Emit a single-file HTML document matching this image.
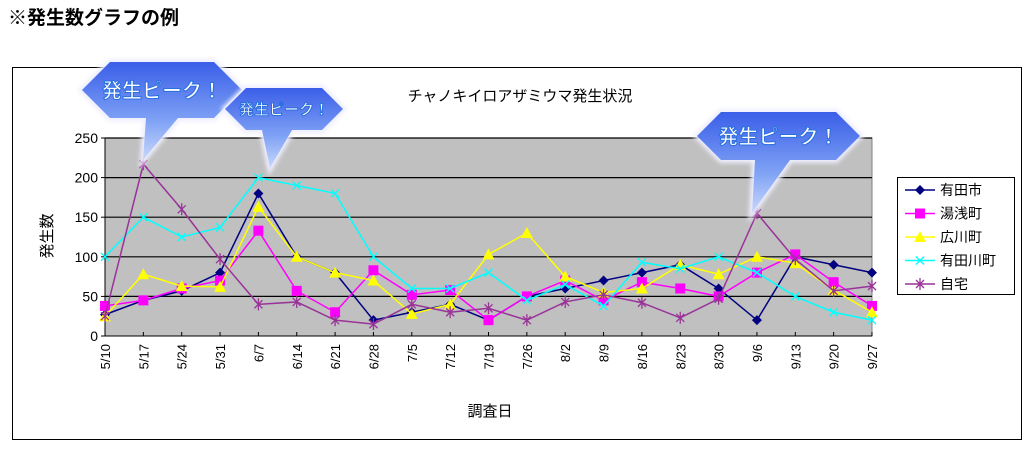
<!DOCTYPE html>
<html><head><meta charset="utf-8"><style>
body{margin:0;background:#fff;width:1032px;height:447px;overflow:hidden}
text{font-family:"Liberation Sans","Noto Sans CJK JP",sans-serif}
</style></head><body>
<svg id="s" width="1032" height="447" xmlns="http://www.w3.org/2000/svg">
<defs>
<linearGradient id="bg" x1="0" y1="0" x2="0" y2="1"><stop offset="0" stop-color="#3a5ee8"/><stop offset="0.6" stop-color="#7fa2f5"/><stop offset="1" stop-color="#c9d8fb"/></linearGradient>
<filter id="gl"><feGaussianBlur stdDeviation="2"/></filter>
</defs>
<text x="8" y="24" font-size="19" font-weight="bold" fill="#000">※発生数グラフの例</text>
<rect x="12.5" y="67.5" width="1009" height="372" fill="none" stroke="#000" stroke-width="1"/>
<text x="520" y="101" font-size="15" text-anchor="middle" fill="#000">チャノキイロアザミウマ発生状況</text>
<rect x="105" y="138" width="767" height="198" fill="#c0c0c0" stroke="#808080"/>
<g id="grid"></g>
<text transform="translate(52,236) rotate(-90)" font-size="15" text-anchor="middle">発生数</text>
<text x="490" y="416" font-size="15" text-anchor="middle">調査日</text>
<rect x="897.5" y="177.5" width="117" height="117" fill="#fff" stroke="#000"/>
<g id="series"></g>
<g id="leg"></g>
<g id="bub"></g>
</svg>
<script>
const NS="http://www.w3.org/2000/svg";
function el(p,t,a,txt){const e=document.createElementNS(NS,t);for(const k in a)e.setAttribute(k,a[k]);if(txt!=null)e.textContent=txt;p.appendChild(e);return e;}
const g=document.getElementById('grid'),S=document.getElementById('series'),L=document.getElementById('leg'),B=document.getElementById('bub');
const x0=105,x1=872,yb=336,yt=138;
const X=i=>x0+i*(x1-x0)/20, Y=v=>yb-v*(yb-yt)/250;
for(let v=0;v<=250;v+=50){const y=Y(v);if(v>0)el(g,'line',{x1:x0,x2:x1,y1:y,y2:y,stroke:'#000','stroke-width':1.2});
el(g,'text',{x:98,y:y+5,'font-size':14,'text-anchor':'end'},v);el(g,'line',{x1:x0-4,x2:x0,y1:y,y2:y,stroke:'#000'});}
el(g,'line',{x1:x0,x2:x0,y1:yt,y2:yb,stroke:'#000'});el(g,'line',{x1:x0,x2:x1,y1:yb,y2:yb,stroke:'#000'});
const dates=['5/10','5/17','5/24','5/31','6/7','6/14','6/21','6/28','7/5','7/12','7/19','7/26','8/2','8/9','8/16','8/23','8/30','9/6','9/13','9/20','9/27'];
dates.forEach((d,i)=>{const x=X(i);el(g,'line',{x1:x,x2:x,y1:yb,y2:yb-4,stroke:'#000'});
el(g,'text',{transform:`translate(${x+5},${yb+8}) rotate(-90)`,'font-size':13,'text-anchor':'end'},d);});
const data=[
['有田市','#000080','d',[27,45,57,80,180,100,80,20,30,40,20,50,60,70,80,90,60,20,100,90,80]],
['湯浅町','#ff00ff','s',[38,45,60,70,133,57,30,83,52,58,20,50,70,45,68,60,50,80,103,68,38]],
['広川町','#ffff00','t',[25,78,63,62,163,100,80,70,28,40,103,130,75,55,60,90,78,100,92,58,30]],
['有田川町','#00ffff','x',[100,150,125,137,200,190,180,100,60,60,80,45,65,38,93,85,100,80,50,30,20]],
['自宅','#993399','a',[25,217,160,97,40,43,20,15,40,30,35,20,43,52,42,23,47,155,97,57,63]]];
function mk(p,t,x,y,c){
 if(t=='d')el(p,'polygon',{points:`${x},${y-5} ${x+5},${y} ${x},${y+5} ${x-5},${y}`,fill:c});
 else if(t=='s')el(p,'rect',{x:x-5,y:y-5,width:10,height:10,fill:c});
 else if(t=='t')el(p,'polygon',{points:`${x},${y-6} ${x+6},${y+5} ${x-6},${y+5}`,fill:c});
 else if(t=='x'){el(p,'path',{d:`M${x-4} ${y-4}L${x+4} ${y+4}M${x+4} ${y-4}L${x-4} ${y+4}`,stroke:c,'stroke-width':1.3});}
 else {el(p,'path',{d:`M${x-4} ${y-4}L${x+4} ${y+4}M${x+4} ${y-4}L${x-4} ${y+4}M${x} ${y-6}L${x} ${y+6}`,stroke:c,'stroke-width':1.3});}
}
data.forEach((s,k)=>{el(S,'polyline',{points:s[3].map((v,i)=>X(i)+','+Y(v)).join(' '),fill:'none',stroke:s[1],'stroke-width':1.5});
 s[3].forEach((v,i)=>mk(S,s[2],X(i),Y(v),s[1]));
 const ly=190+k*23.5;el(L,'line',{x1:905,x2:935,y1:ly,y2:ly,stroke:s[1],'stroke-width':1.5});mk(L,s[2],920,ly,s[1]);
 el(L,'text',{x:940,y:ly+5,'font-size':14},s[0]);});
function bubble(l,t,r,b,tx,ty,tb1,tb2,fs){
 const h=(b-t)/2,m=t+h;
 const pts=`${l},${m} ${l+h},${t} ${r-h},${t} ${r},${m} ${r-h},${b} ${tb2},${b} ${tx},${ty} ${tb1},${b} ${l+h},${b}`;
 el(B,'polygon',{points:pts,fill:'#fff',stroke:'#eef','stroke-width':6,filter:'url(#gl)'});
 el(B,'polygon',{points:pts,fill:'url(#bg)'});
 el(B,'text',{x:(l+r)/2,y:m+fs*0.38,'font-size':fs,'font-weight':'bold','text-anchor':'middle',fill:'#fff',stroke:'#2a6fe0','stroke-width':1},'発生ピーク！');
}
bubble(82,62,242,118,143,160,146,178,20);
bubble(225,88,343,130,270,168,262,292,15);
bubble(697,112,860,160,752,213,755,790,20);
</script>
</body></html>
